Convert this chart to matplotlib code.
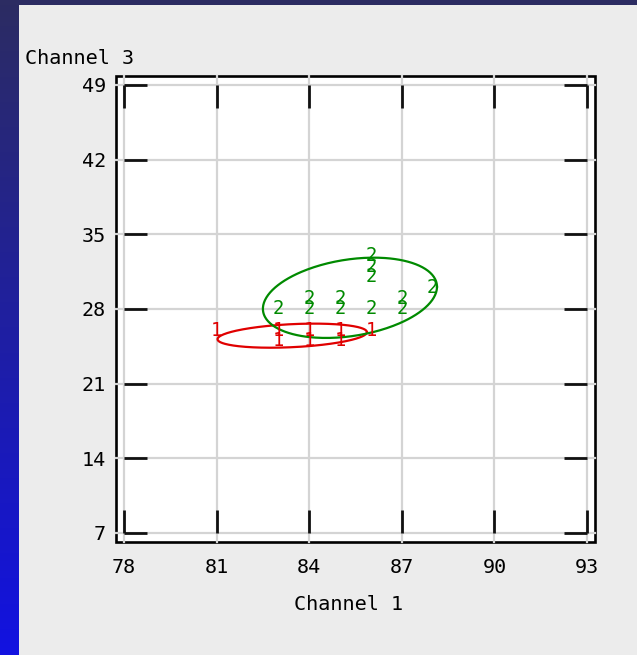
import numpy as np
import matplotlib
matplotlib.use("Agg")
import matplotlib.pyplot as plt
from matplotlib.patches import Rectangle

# class 1 (red) and class 2 (green) samples, Channel 1 vs Channel 3
c1_x = [81, 83, 83, 84, 84, 85, 85, 86]
c1_y = [26, 25, 26, 25, 26, 25, 26, 26]
c2_x = [83, 84, 84, 85, 85, 86, 86, 86, 86, 87, 87, 88]
c2_y = [28, 28, 29, 28, 29, 28, 31, 32, 33, 28, 29, 30]

# ellipse: centre, then x/y offsets for cos and sin terms
ell1 = dict(cx=83.45, cy=25.5, ax=2.42, bx=0.0, ay=0.33, by=1.08)
ell2 = dict(cx=85.32, cy=29.05, ax=2.82, bx=0.0, ay=1.03, by=3.62)

x_ticks = [78, 81, 84, 87, 90, 93]
y_ticks = [7, 14, 21, 28, 35, 42, 49]

RED = "#e00000"
GREEN = "#008a00"
FONT = "DejaVu Sans Mono"
FS = 14.5

W, H = 637, 655
fig = plt.figure(figsize=(W / 100, H / 100), dpi=100)
fig.patch.set_facecolor("#ececec")

# dark blue borders (left gradient strip + top band)
bg = fig.add_axes([0, 0, 1, 1], zorder=-10)
bg.set_axis_off()
bg.set_xlim(0, W)
bg.set_ylim(H, 0)
grad = np.linspace(0, 1, 256)[:, None]
top_c = np.array([44, 44, 98]) / 255
bot_c = np.array([18, 18, 225]) / 255
img = top_c[None, None, :] * (1 - grad[:, :, None]) + bot_c[None, None, :] * grad[:, :, None]
bg.imshow(img, extent=[0, 19, H, 0], aspect="auto")
bg.add_patch(Rectangle((0, 0), W, 5, color="#2c2c62", lw=0))

# outer frame
fig.patches.append(Rectangle((116 / W, 1 - 542 / H), 479 / W, 466 / H,
                             transform=fig.transFigure, facecolor="white",
                             edgecolor="black", lw=1.9, zorder=0))

ax = fig.add_axes([124 / W, 1 - 533 / H, 463 / W, 448 / H], zorder=1)
ax.set_facecolor("none")
ax.set_xlim(x_ticks[0], x_ticks[-1])
ax.set_ylim(y_ticks[0], y_ticks[-1])
for s in ax.spines.values():
    s.set_visible(False)
ax.set_xticks(x_ticks)
ax.set_yticks(y_ticks)
# grid runs out to the frame
gx0, gx1 = -8 / 463, 1 + 8 / 463
gy0, gy1 = -9 / 448, 1 + 9 / 448
for xv in x_ticks:
    ax.axvline(xv, gy0, gy1, color="#d4d4d4", lw=1.6, zorder=0, clip_on=False)
for yv in y_ticks:
    ax.axhline(yv, gx0, gx1, color="#d4d4d4", lw=1.6, zorder=0, clip_on=False)
ax.tick_params(direction="in", length=16.5, width=2.0, color="#111111",
               top=True, right=True, labelsize=FS)
ax.tick_params(axis="x", pad=18)
ax.tick_params(axis="y", pad=13)
for lab in ax.get_xticklabels() + ax.get_yticklabels():
    lab.set_family(FONT)

t = np.linspace(0, 2 * np.pi, 300)
for e, col in [(ell1, RED), (ell2, GREEN)]:
    ex = e["cx"] + e["ax"] * np.cos(t) + e["bx"] * np.sin(t)
    ey = e["cy"] + e["ay"] * np.cos(t) + e["by"] * np.sin(t)
    ax.plot(ex, ey, color=col, lw=1.6, zorder=3)

for xs, ys, lab, col in [(c1_x, c1_y, "1", RED), (c2_x, c2_y, "2", GREEN)]:
    for x, y in zip(xs, ys):
        ax.text(x, y, lab, color=col, fontsize=13.5, family=FONT,
                ha="center", va="center", zorder=4)

fig.text(25 / W, 1 - 59 / H, "Channel 3", family=FONT, fontsize=FS,
         ha="left", va="center")
fig.text(349 / W, 1 - 605 / H, "Channel 1", family=FONT, fontsize=FS,
         ha="center", va="center")

fig.savefig("out.png", dpi=100, facecolor=fig.get_facecolor())
